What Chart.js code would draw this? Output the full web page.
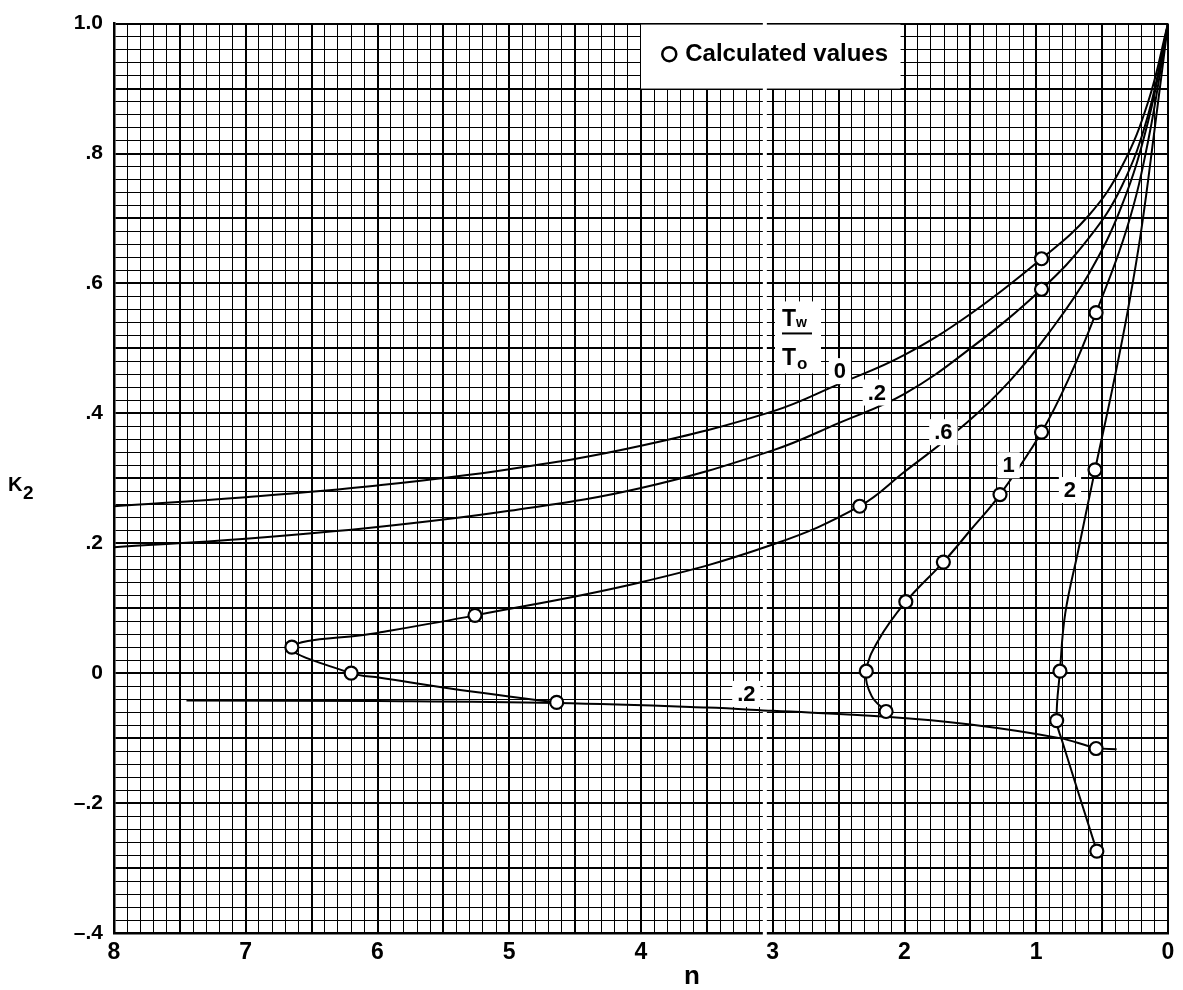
<!DOCTYPE html>
<html>
<head>
<meta charset="utf-8">
<script src="https://cdn.jsdelivr.net/npm/chart.js@4.4.1/dist/chart.umd.min.js"></script>
<style>
html,body{margin:0;padding:0;background:#fff;}
canvas{display:block;}
</style>
</head>
<body>
<canvas id="k2Chart" width="1183" height="990"></canvas>
<script>
// K2 against n for several wall temperature ratios Tw/To

const xTickLabels=["8","7","6","5","4","3","2","1","0"];
const yTickLabels=["1.0",".8",".6",".4",".2","0","\u2013.2","\u2013.4"];

const curve0=[[8,0.257],[7,0.271],[6,0.289],[5,0.314],[4,0.350],[3,0.403],[2.5,0.445],[2,0.490],[1.5,0.553],[0.96,0.638],[0.6,0.705],[0.35,0.78],[0.15,0.88],[0,1.0]];
const curve02=[[8,0.194],[7,0.207],[6,0.225],[5,0.250],[4,0.285],[3,0.343],[2.5,0.385],[2,0.430],[1.5,0.500],[0.96,0.591],[0.6,0.670],[0.35,0.75],[0.15,0.86],[0,1.0]];
const curve06=[[0,1.0],[0.15,0.85],[0.35,0.72],[0.6,0.615],[0.9,0.525],[1.2,0.45],[1.53,0.385],[2.0,0.31],[2.34,0.257],[3.0,0.198],[4.0,0.14],[5.26,0.089],[6.0,0.062],[6.65,0.04],[6.2,0.0],[5.98,-0.007],[5.3,-0.028],[4.64,-0.045]];
const curve1=[[0,1.0],[0.15,0.82],[0.31,0.686],[0.546,0.555],[0.75,0.455],[0.96,0.371],[1.275,0.275],[1.5,0.22],[1.705,0.171],[1.99,0.110],[2.2,0.05],[2.29,0.003],[2.25,-0.035],[2.14,-0.059]];
const curve2=[[0,1.0],[0.1,0.84],[0.2,0.686],[0.3,0.564],[0.42,0.44],[0.554,0.313],[0.68,0.19],[0.78,0.092],[0.82,0.003],[0.845,-0.073],[0.807,-0.102],[0.54,-0.274]];
const curve02low=[[7.45,-0.042],[6,-0.043],[4.64,-0.046],[3.5,-0.053],[3,-0.058],[2.14,-0.067],[1.5,-0.079],[0.82,-0.100],[0.546,-0.115],[0.39,-0.117]];

const calculated=[[0.96,0.638],[0.96,0.591],
[2.34,0.257],[5.26,0.089],[6.65,0.04],[6.2,0.0],[4.64,-0.045],
[0.546,0.555],[0.96,0.371],[1.275,0.275],[1.705,0.171],[1.99,0.110],[2.29,0.003],[2.14,-0.059],
[0.554,0.313],[0.82,0.003],[0.845,-0.073],[0.54,-0.274],
[0.546,-0.116]];

const curveLabels=[["0",2.49,0.465],[".2",2.21,0.432],[".6",1.705,0.371],["1",1.21,0.32],["2",0.744,0.282],[".2",3.2,-0.032]];

const FONT="'Liberation Sans', Arial, sans-serif";

function pts(arr){
return arr.map(p=>({x:p[0],y:p[1]}));
}

function near(v,step){
let q=v/step;
return Math.abs(q-Math.round(q))<1e-6;
}

function lineSet(arr){
return {
data:pts(arr),
showLine:true,
borderColor:"#000",
borderWidth:2,
pointRadius:0,
tension:0.4,
fill:false,
order:1
};
}

const overlay={
id:"overlay",
beforeDatasetsDraw(chart){
// white gap in the grid paper
const {ctx,chartArea:a,scales:{x}}=chart;
const px=x.getPixelForValue(3.06);
ctx.save();
ctx.fillStyle="#fff";
ctx.fillRect(px-2,a.top-2,4,a.bottom-a.top+4);
ctx.restore();
},
afterDatasetsDraw(chart){
const {ctx,chartArea:a,scales:{x,y}}=chart;
ctx.save();
ctx.fillStyle="#000";
ctx.textAlign="center";
ctx.textBaseline="middle";

// curve labels on white patches
ctx.font="bold 22px "+FONT;
curveLabels.forEach(l=>{
const px=x.getPixelForValue(l[1]);
const py=y.getPixelForValue(l[2]);
const w=ctx.measureText(l[0]).width+10;
ctx.fillStyle="#fff";
ctx.fillRect(px-w/2,py-13,w,26);
ctx.fillStyle="#000";
ctx.fillText(l[0],px,py+1);
});

// Tw / To fraction
const fx=x.getPixelForValue(2.816);
const fy=y.getPixelForValue(0.523);
ctx.fillStyle="#fff";
ctx.fillRect(fx-22,fy-32,46,72);
ctx.fillStyle="#000";
ctx.textAlign="left";
ctx.textBaseline="alphabetic";
ctx.font="bold 23px "+FONT;
ctx.fillText("T",fx-15,fy-7);
ctx.fillText("T",fx-15,fy+32);
ctx.font="bold 14px "+FONT;
ctx.fillText("w",fx-1,fy-6);
ctx.font="bold 17px "+FONT;
ctx.fillText("o",fx,fy+36);
ctx.fillRect(fx-15,fy-1,30,2);

// legend box
const bx1=x.getPixelForValue(4.0);
const bx2=x.getPixelForValue(2.03);
const by2=y.getPixelForValue(0.9);
ctx.fillStyle="#fff";
ctx.fillRect(bx1,a.top+1,bx2-bx1,by2-a.top-1);
ctx.fillStyle="#000";
ctx.font="bold 24px "+FONT;
ctx.textAlign="right";
ctx.textBaseline="middle";
const tx=x.getPixelForValue(2.125);
const ty=y.getPixelForValue(0.953);
ctx.fillText("Calculated values",tx,ty);
const tw=ctx.measureText("Calculated values").width;
ctx.beginPath();
ctx.arc(tx-tw-16,ty,7,0,Math.PI*2);
ctx.lineWidth=2.5;
ctx.strokeStyle="#000";
ctx.stroke();
ctx.restore();
},
afterDraw(chart){
const {ctx}=chart;
ctx.save();
ctx.fillStyle="#000";
ctx.textBaseline="alphabetic";
ctx.textAlign="left";
ctx.font="bold 20px "+FONT;
ctx.fillText("K",8,491);
ctx.font="bold 19px "+FONT;
ctx.fillText("2",23,499);
ctx.font="bold 26px "+FONT;
ctx.textAlign="center";
ctx.fillText("n",692,984);
ctx.restore();
}
};

new Chart(document.getElementById("k2Chart"),{

type:"scatter",

data:{

datasets:[{
data:pts(calculated),
showLine:false,
pointRadius:6.5,
pointBackgroundColor:"#fff",
pointBorderColor:"#000",
pointBorderWidth:2.2,
order:0
},
lineSet(curve0),
lineSet(curve02),
lineSet(curve06),
lineSet(curve1),
lineSet(curve2),
lineSet(curve02low)
]

},

options:{
responsive:false,
animation:false,
devicePixelRatio:1,
events:[],
layout:{padding:{left:0,right:15,top:14,bottom:0}},
plugins:{legend:{display:false},tooltip:{enabled:false}},
scales:{
x:{
type:"linear",
reverse:true,
min:0,
max:8,
afterFit(s){s.height=57;},
ticks:{
stepSize:0.1,
autoSkip:false,
maxRotation:0,
padding:6,
color:"#000",
font:{family:FONT,size:23,weight:"bold"},
callback(v){
if(!near(v,1)) return "";
return xTickLabels[8-Math.round(v)];
}
},
grid:{
drawTicks:false,
color:"#000",
lineWidth(c){return c.tick && near(c.tick.value,0.5)?2:1;}
},
border:{color:"#000",width:2.5}
},
y:{
type:"linear",
min:-0.4,
max:1.0,
afterFit(s){s.width=114;},
ticks:{
stepSize:0.02,
autoSkip:false,
padding:11,
color:"#000",
font:{family:FONT,size:21,weight:"bold"},
callback(v){
if(!near(v,0.2)) return "";
return yTickLabels[Math.round((1-v)/0.2)];
}
},
grid:{
drawTicks:false,
color:"#000",
lineWidth(c){return c.tick && near(c.tick.value,0.1)?2:1;}
},
border:{color:"#000",width:2.5}
}
}
},

plugins:[overlay]

});
</script>
</body>
</html>
